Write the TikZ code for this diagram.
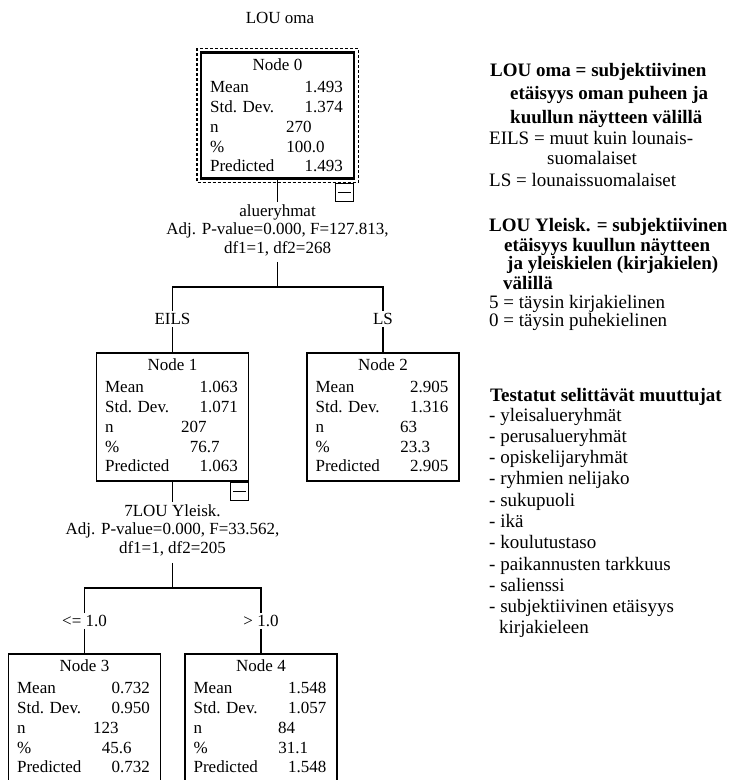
\documentclass[tikz,border=0pt]{standalone}
\usepackage{fontspec}
\setmainfont{Liberation Serif}

\tikzset{
  statbox/.style={draw, line width=1.2pt, minimum width=152pt, minimum height=\statheight pt, inner sep=0pt},
  rowtext/.style={font=\fontsize{17}{20}\selectfont, inner sep=0pt},
  splitlabel/.style={font=\fontsize{17}{18.5}\selectfont, align=center, inner sep=2pt},
  branchlabel/.style={font=\fontsize{17}{20}\selectfont, inner sep=2pt},
  legend/.style={font=\fontsize{19}{22}\selectfont, anchor=base west, inner sep=0pt},
  legendbold/.style={legend, font=\fontsize{19}{22}\selectfont\bfseries},
  minusbox/.style={draw, line width=1.2pt, minimum size=18pt, inner sep=0pt, anchor=north east},
  link/.style={line width=1.2pt},
}

\def\statheight{128}
% box with title and the five rows: name, centre x, top y, title, mean, sd, n, %, predicted
\newcommand{\statnode}[9]{%
  \node[statbox] (#1) at (#2,#3+\statheight/2) {};
  \node[rowtext, anchor=base] (#1title) at ([yshift=-18pt]#1.north) {#4};
  \node[rowtext, anchor=base west] (#1meanl) at ([shift={(9pt,-40pt)}]#1.north west) {Mean};
  \node[rowtext, anchor=base west] (#1sdl) at ([shift={(9pt,-60pt)}]#1.north west) {Std. Dev.};
  \node[rowtext, anchor=base west] (#1nl) at ([shift={(9pt,-80pt)}]#1.north west) {n};
  \node[rowtext, anchor=base west] (#1pctl) at ([shift={(9pt,-100pt)}]#1.north west) {\%};
  \node[rowtext, anchor=base west] (#1predl) at ([shift={(9pt,-119pt)}]#1.north west) {Predicted};
  \node[rowtext, anchor=base east] (#1mean) at ([shift={(-11pt,-40pt)}]#1.north east) {#5};
  \node[rowtext, anchor=base east] (#1sd) at ([shift={(-11pt,-60pt)}]#1.north east) {#6};
  \node[rowtext, anchor=base east] (#1n) at ([shift={(111pt,-80pt)}]#1.north west) {#7};
  \node[rowtext, anchor=base east] (#1pct) at ([shift={(124pt,-100pt)}]#1.north west) {#8};
  \node[rowtext, anchor=base east] (#1pred) at ([shift={(-11pt,-119pt)}]#1.north east) {#9};
}

\begin{document}
\begin{tikzpicture}[x=1pt, y=-1pt]
    \useasboundingbox (0,0) rectangle (730,780);

    % Title
    \node[branchlabel] (title) at (280,18) {LOU oma};

    % Root node
    \def\statheight{125}
    \statnode{n0}{277.5}{53}{Node 0}{1.493}{1.374}{270}{100.0}{1.493}
    \draw[line width=2.2pt] (n0.north west) rectangle (n0.south east);
    \draw[line width=1.2pt, dash pattern=on 3pt off 2pt]
        ([shift={(-4pt,4pt)}]n0.north west) rectangle ([shift={(4pt,-4pt)}]n0.south east);
    \node[minusbox] (n0minus) at ([yshift=-4pt]n0.south east) {};
    \draw[link] ([xshift=3pt]n0minus.west) -- ([xshift=-3pt]n0minus.east);
    \def\statheight{128}

    % First split
    \node[splitlabel] (split0) at (277.5,230) {alueryhmat\\Adj. P-value=0.000, F=127.813,\\df1=1, df2=268};
    \coordinate (fork0) at (277.5,287);
    \draw[link] (n0) -- (split0);
    \draw[link] ([yshift=-4pt]split0.south) -- (fork0);
    \node[branchlabel] (eils) at (172.5,319) {EILS};
    \node[branchlabel] (ls) at (383,319) {LS};
    \draw[link] (eils) |- (fork0) -| (ls);

    % Second level
    \statnode{n1}{172.5}{353}{Node 1}{1.063}{1.071}{207}{76.7}{1.063}
    \statnode{n2}{383}{353}{Node 2}{2.905}{1.316}{63}{23.3}{2.905}
    \draw[link] (eils) -- (n1);
    \draw[link] (ls) -- (n2);
    \node[minusbox] (n1minus) at (n1.south east) {};
    \draw[link] ([xshift=3pt]n1minus.west) -- ([xshift=-3pt]n1minus.east);

    % Second split
    \node[splitlabel] (split1) at (172.5,530) {7LOU Yleisk.\\Adj. P-value=0.000, F=33.562,\\df1=1, df2=205};
    \coordinate (fork1) at (172.5,588);
    \draw[link] (n1) -- (split1);
    \draw[link] ([yshift=-5pt]split1.south) -- (fork1);
    \node[branchlabel] (le) at (84.5,621) {<= 1.0};
    \node[branchlabel] (gt) at (261,621) {> 1.0};
    \draw[link] (le) |- (fork1) -| (gt);

    % Leaves
    \statnode{n3}{84.5}{654}{Node 3}{0.732}{0.950}{123}{45.6}{0.732}
    \statnode{n4}{261}{654}{Node 4}{1.548}{1.057}{84}{31.1}{1.548}
    \draw[link] (le) -- (n3);
    \draw[link] (gt) -- (n4);

    % Legend
    \node[legendbold] (legA1) at (490,76) {LOU oma = subjektiivinen};
    \node[legendbold] (legA2) at (510,99) {etäisyys oman puheen ja};
    \node[legendbold] (legA3) at (510,123) {kuullun näytteen välillä};
    \node[legend] (legB1) at (489,144) {EILS = muut kuin lounais-};
    \node[legend] (legB2) at (547,164) {suomalaiset};
    \node[legend] (legB3) at (489,186) {LS = lounaissuomalaiset};

    \node[legendbold] (legC1) at (489,231) {LOU Yleisk. = subjektiivinen};
    \node[legendbold] (legC2) at (504,251) {etäisyys kuullun näytteen};
    \node[legendbold] (legC3) at (507,269) {ja yleiskielen (kirjakielen)};
    \node[legendbold] (legC4) at (503,289) {välillä};
    \node[legend] (legD1) at (489,308) {5 = täysin kirjakielinen};
    \node[legend] (legD2) at (489,326) {0 = täysin puhekielinen};

    \node[legendbold] (legE) at (490,401) {Testatut selittävät muuttujat};
    \foreach \entry [count=\i] in {yleisalueryhmät, perusalueryhmät, opiskelijaryhmät,
        ryhmien nelijako, sukupuoli, ikä, koulutustaso, paikannusten tarkkuus,
        salienssi, subjektiivinen etäisyys}
        \node[legend] (item\i) at (489,{421+21.3*(\i-1)}) {- \entry};
    \node[legend] (item11) at (499,633) {kirjakieleen};
\end{tikzpicture}
\end{document}
